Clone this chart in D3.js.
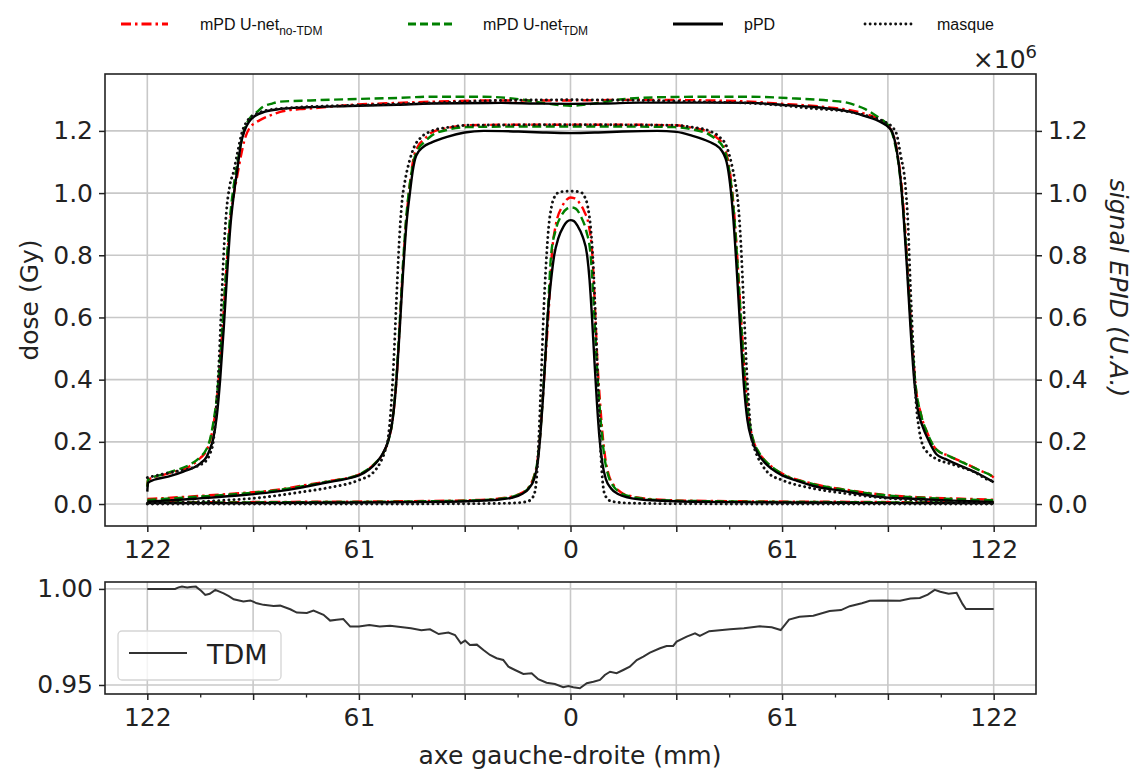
<!DOCTYPE html>
<html><head><meta charset="utf-8">
<script src="https://cdn.jsdelivr.net/npm/d3@7"></script>
<style>body{margin:0;background:#fff}svg{display:block}</style>
</head><body>
<svg id="c" width="1140" height="772"></svg>
<script>
// ---------- DATA ----------
const xTickValues = [-122, -61, 0, 61, 122];
const xTickLabels = ["122", "61", "0", "61", "122"];
const xGridValues = [-122, -91.5, -61, -30.5, 0, 30.5, 61, 91.5, 122];
const xMinorValues = [-106.75, -76.25, -45.75, -15.25, 15.25, 45.75, 76.25, 106.75];
const yTopTicks = [0.0, 0.2, 0.4, 0.6, 0.8, 1.0, 1.2];
const yBotTicks = [0.95, 1.00];
const legendLabels = ["mPD U-net", "mPD U-net", "pPD", "masque"];
const legendSubs = ["no-TDM", "TDM", "", ""];

// large field
const largeNoTDM = [[-122,0.058],[-121.8,0.078],[-118,0.092],[-114,0.104],[-110,0.12],[-106.7,0.148],[-105,0.17],[-104,0.2],[-103,0.25],[-102,0.33],[-101,0.46],[-100,0.62],[-99,0.79],[-98,0.92],[-97,1.0],[-96,1.06],[-95,1.12],[-94,1.17],[-92.5,1.21],[-91,1.225],[-89,1.238],[-86,1.252],[-83.7,1.261],[-78,1.27],[-74,1.273],[-64,1.283],[-50,1.29],[-40,1.294],[-20,1.298],[0,1.298],[20,1.3],[40,1.298],[52,1.294],[60,1.288],[67,1.283],[75,1.275],[80,1.268],[84,1.258],[88,1.243],[90.5,1.228],[92,1.21],[93.3,1.18],[94.5,1.11],[95.5,1.02],[96.5,0.88],[97.5,0.7],[98.5,0.52],[99.5,0.38],[101,0.29],[103,0.225],[105.5,0.175],[109,0.155],[113,0.135],[118,0.108],[121.7,0.088],[122,0.085]];
const largeTDM = [[-122,0.055],[-121.8,0.078],[-118,0.094],[-114,0.108],[-110,0.125],[-106.7,0.152],[-105,0.175],[-104,0.205],[-103,0.26],[-102,0.34],[-101,0.47],[-100,0.63],[-99,0.8],[-98,0.94],[-97,1.03],[-96,1.1],[-95,1.16],[-94,1.205],[-92.5,1.24],[-90.3,1.262],[-88.6,1.278],[-86,1.288],[-83.7,1.294],[-75,1.298],[-64,1.302],[-50,1.306],[-40,1.31],[-25,1.31],[-15,1.302],[-8,1.29],[-3,1.283],[0,1.281],[3,1.283],[8,1.29],[15,1.302],[25,1.308],[40,1.31],[52,1.31],[65,1.304],[75,1.297],[80,1.29],[82,1.283],[85,1.27],[87,1.257],[89,1.242],[91,1.225],[92.5,1.2],[93.5,1.16],[94.5,1.1],[95.5,1.0],[96.5,0.86],[97.5,0.69],[98.5,0.52],[99.5,0.38],[101,0.29],[103,0.225],[105.5,0.175],[109,0.155],[113,0.134],[118,0.108],[121.7,0.088],[122,0.085]];
const largePPD = [[-122,0.04],[-121.8,0.068],[-120,0.078],[-116,0.088],[-111.6,0.104],[-106.7,0.131],[-105,0.15],[-104,0.175],[-103,0.21],[-102,0.28],[-101,0.4],[-100,0.56],[-99,0.74],[-98,0.9],[-97,1.0],[-96,1.08],[-95,1.16],[-94,1.2],[-92.5,1.232],[-91,1.248],[-88,1.262],[-84,1.27],[-76,1.276],[-64,1.28],[-50,1.284],[-40,1.288],[-20,1.29],[-10,1.288],[0,1.287],[10,1.288],[20,1.291],[40,1.291],[52,1.29],[62,1.283],[70,1.277],[76,1.27],[80.5,1.262],[85.3,1.246],[88,1.236],[90,1.225],[91.5,1.214],[92.8,1.195],[94,1.14],[95,1.06],[96,0.93],[97,0.76],[98,0.57],[99,0.41],[100,0.31],[101.5,0.25],[103,0.21],[105.5,0.16],[108,0.145],[113,0.12],[118,0.095],[121.7,0.072],[122,0.07]];
const largeMask = [[-122,0.085],[-118,0.095],[-114,0.104],[-110,0.113],[-107,0.125],[-105,0.14],[-104,0.16],[-103,0.2],[-102.3,0.28],[-101.5,0.42],[-100.7,0.62],[-100,0.8],[-99.2,0.94],[-98.3,1.02],[-97.1,1.07],[-96,1.13],[-94.7,1.195],[-93,1.235],[-91,1.252],[-88,1.265],[-80,1.275],[-60,1.283],[-40,1.29],[-20,1.298],[0,1.3],[20,1.298],[40,1.293],[52,1.289],[62,1.281],[70,1.272],[80,1.262],[85,1.25],[90,1.232],[92.5,1.215],[94,1.19],[95.2,1.12],[96.4,1.04],[97.3,0.9],[98,0.7],[98.8,0.5],[99.6,0.33],[100.5,0.24],[101.5,0.19],[103,0.165],[105.5,0.145],[110,0.128],[116,0.105],[121.7,0.075],[122,0.075]];

// medium field
const medNoTDM = [[-122,0.016],[-107,0.026],[-95,0.035],[-85,0.045],[-78,0.058],[-70,0.073],[-61,0.095],[-56,0.135],[-54,0.163],[-52.5,0.205],[-51.3,0.27],[-50.3,0.38],[-49.3,0.56],[-48.3,0.76],[-47.3,0.92],[-46.3,1.03],[-45.3,1.11],[-44,1.15],[-42,1.175],[-40,1.195],[-35.6,1.209],[-30,1.218],[-15,1.22],[0,1.22],[15,1.22],[30,1.218],[35,1.21],[40,1.195],[42,1.18],[44,1.155],[45.5,1.1],[46.5,1.02],[47.5,0.89],[48.5,0.72],[49.5,0.54],[50.5,0.38],[51.5,0.27],[52.7,0.205],[54.5,0.163],[58,0.12],[61,0.098],[70,0.065],[80,0.045],[90,0.03],[100,0.022],[110,0.018],[122,0.014]];
const medTDM = [[-122,0.013],[-107,0.024],[-95,0.033],[-85,0.044],[-78,0.056],[-70,0.072],[-61,0.095],[-56,0.135],[-54,0.163],[-52.5,0.205],[-51.3,0.27],[-50.3,0.39],[-49.3,0.57],[-48.3,0.77],[-47.3,0.93],[-46.3,1.03],[-45.3,1.1],[-44,1.14],[-42,1.165],[-40,1.185],[-35.6,1.203],[-30,1.212],[-15,1.214],[0,1.214],[15,1.214],[30,1.212],[35,1.205],[40,1.188],[42,1.172],[44,1.148],[45.5,1.09],[46.5,1.01],[47.5,0.88],[48.5,0.71],[49.5,0.53],[50.5,0.37],[51.5,0.27],[52.7,0.205],[54.5,0.163],[58,0.12],[61,0.097],[70,0.064],[80,0.044],[90,0.029],[100,0.021],[110,0.016],[122,0.012]];
const medPPD = [[-122,0.008],[-115,0.012],[-107,0.018],[-95,0.028],[-85,0.04],[-78,0.052],[-70,0.07],[-65,0.08],[-61,0.092],[-58,0.112],[-56,0.133],[-54,0.165],[-52.5,0.205],[-51.3,0.27],[-50.3,0.38],[-49.3,0.55],[-48.3,0.74],[-47.3,0.9],[-46.3,1.0],[-45.5,1.07],[-44.5,1.12],[-42.5,1.148],[-40,1.163],[-35.6,1.181],[-30.5,1.195],[-25,1.2],[-15,1.198],[-8,1.195],[0,1.193],[8,1.195],[15,1.198],[25,1.2],[30.5,1.197],[35,1.185],[40,1.165],[43,1.145],[45,1.1],[46,1.03],[47,0.91],[48,0.74],[49,0.55],[50,0.38],[51,0.27],[52.3,0.205],[54,0.163],[56,0.133],[58,0.113],[61,0.092],[65,0.076],[70,0.058],[78,0.043],[89,0.023],[100,0.016],[110,0.011],[122,0.007]];
const medMask = [[-122,0.002],[-110,0.006],[-100,0.012],[-90,0.02],[-78,0.038],[-70,0.052],[-61,0.077],[-57,0.1],[-55,0.13],[-53.5,0.17],[-52.6,0.21],[-51.8,0.3],[-51,0.45],[-50.2,0.65],[-49.4,0.84],[-48.6,0.97],[-47.7,1.04],[-46.5,1.1],[-45,1.15],[-43,1.18],[-40,1.2],[-35,1.212],[-30,1.218],[0,1.22],[30,1.218],[35,1.212],[40,1.2],[43,1.18],[45,1.15],[46.3,1.1],[47.4,1.04],[48.3,0.97],[49.1,0.84],[49.9,0.65],[50.7,0.45],[51.5,0.3],[52.3,0.21],[53.3,0.17],[55,0.13],[57,0.1],[61,0.077],[70,0.05],[78,0.036],[90,0.02],[100,0.012],[110,0.006],[122,0.002]];

// small field
const smallNoTDM = [[-122,0.006],[-100,0.006],[-80,0.007],[-60,0.008],[-40,0.01],[-30,0.012],[-22,0.016],[-17,0.024],[-14,0.036],[-12,0.055],[-10.5,0.09],[-9.5,0.14],[-8.7,0.23],[-8,0.34],[-7.2,0.47],[-6.4,0.6],[-5.4,0.8],[-4.2,0.9],[-2.5,0.955],[-1,0.98],[0,0.986],[1,0.984],[2.5,0.97],[4,0.94],[5.2,0.9],[6.3,0.8],[7.1,0.62],[7.8,0.45],[8.5,0.33],[9.2,0.23],[10,0.15],[11,0.095],[12.5,0.06],[14.5,0.038],[17.5,0.025],[22,0.017],[30,0.012],[40,0.01],[60,0.008],[80,0.007],[100,0.006],[122,0.006]];
const smallTDM = [[-122,0.005],[-100,0.005],[-80,0.006],[-60,0.007],[-40,0.009],[-30,0.011],[-22,0.015],[-17,0.023],[-14,0.035],[-12,0.053],[-10.5,0.088],[-9.5,0.14],[-8.7,0.23],[-8,0.34],[-7.3,0.47],[-6.6,0.6],[-5.6,0.8],[-4.3,0.88],[-2.5,0.93],[-1,0.95],[0.3,0.954],[1.5,0.95],[3,0.925],[4.5,0.88],[5.8,0.8],[6.9,0.6],[7.6,0.45],[8.3,0.33],[9,0.23],[9.8,0.15],[10.8,0.095],[12.3,0.058],[14.3,0.037],[17.3,0.024],[22,0.016],[30,0.011],[40,0.009],[60,0.007],[80,0.006],[100,0.005],[122,0.005]];
const smallPPD = [[-122,0.003],[-100,0.003],[-80,0.004],[-60,0.005],[-40,0.007],[-30,0.009],[-22,0.013],[-17,0.02],[-14,0.032],[-12,0.05],[-10.5,0.08],[-9.5,0.13],[-8.7,0.22],[-8,0.33],[-7.3,0.46],[-6.6,0.6],[-5.6,0.72],[-4.7,0.8],[-3.5,0.855],[-2,0.893],[-1,0.908],[0,0.913],[1,0.91],[2,0.895],[3.5,0.86],[4.8,0.8],[5.5,0.72],[6.2,0.6],[6.9,0.46],[7.6,0.33],[8.3,0.22],[9.2,0.13],[10.2,0.08],[11.7,0.05],[13.7,0.032],[17,0.02],[22,0.013],[30,0.009],[40,0.007],[60,0.005],[80,0.004],[100,0.003],[122,0.003]];
const smallMask = [[-122,0.0],[-60,0.0],[-30,0.001],[-20,0.002],[-15,0.004],[-12,0.01],[-10.5,0.03],[-9.8,0.08],[-9.3,0.17],[-8.8,0.3],[-8.3,0.45],[-7.8,0.6],[-7,0.78],[-6.3,0.89],[-5.5,0.955],[-4.5,0.99],[-3,1.004],[0,1.006],[2.7,1.004],[4,0.99],[5,0.955],[5.8,0.89],[6.5,0.78],[7.2,0.6],[7.7,0.45],[8.2,0.3],[8.7,0.17],[9.2,0.08],[9.9,0.03],[11.5,0.01],[15,0.004],[20,0.002],[30,0.001],[60,0.0],[122,0.0]];

// bottom panel: TDM ratio
const tdmProfile = [[-122,1.0],[-114,1.0],[-113,1.0008],[-112,1.0012],[-110.5,1.0008],[-109.6,1.001],[-108,1.0012],[-106.5,0.999],[-105.3,0.9969],[-104,0.9975],[-102.4,0.9995],[-100,0.9977],[-98.5,0.9962],[-97.1,0.9946],[-94.3,0.9934],[-92.3,0.994],[-90.4,0.9925],[-88.5,0.9917],[-85.6,0.9911],[-83.7,0.9913],[-80.8,0.9894],[-78.9,0.9877],[-76,0.9875],[-74.1,0.9887],[-71.2,0.9865],[-69.3,0.9835],[-67.4,0.9839],[-65.5,0.9843],[-63.5,0.9804],[-61,0.9805],[-58,0.9812],[-55,0.9805],[-52,0.9808],[-49,0.9802],[-46,0.9795],[-43,0.9785],[-40.5,0.979],[-38,0.9765],[-35.2,0.9773],[-33.3,0.976],[-31.6,0.9717],[-30.4,0.9731],[-29,0.9708],[-27,0.971],[-25.1,0.9682],[-23.2,0.9656],[-21.3,0.9639],[-19.4,0.963],[-17.9,0.9595],[-16,0.9578],[-13.6,0.9557],[-11.2,0.9561],[-9.3,0.953],[-6.9,0.9512],[-4.5,0.9505],[-2.1,0.9488],[-0.6,0.9495],[0.8,0.9488],[2.7,0.9483],[4.7,0.9509],[6.6,0.9517],[8.5,0.9526],[9.9,0.9552],[11.4,0.9569],[13.3,0.9561],[15.2,0.9578],[17.1,0.9595],[19.1,0.963],[21,0.9648],[22.9,0.9668],[25.8,0.9691],[27.7,0.9703],[29.6,0.9703],[30.6,0.9726],[33.5,0.9752],[35.9,0.9769],[37.3,0.9755],[40,0.978],[43,0.9785],[46,0.979],[50,0.9795],[54.6,0.9805],[58,0.98],[60.6,0.9786],[63,0.984],[66,0.9855],[70,0.986],[74.7,0.9885],[78,0.989],[80.5,0.991],[84,0.9925],[86.3,0.9938],[90,0.994],[95,0.9938],[98,0.995],[100.7,0.9953],[103,0.997],[105,0.9995],[106.6,0.9985],[109,0.9975],[111.3,0.998],[113,0.9922],[114,0.9895],[122,0.9895]];

// ---------- DRAWING ----------
const svg = d3.select("#c");
const L = 105, R = 1036;
const topT = 74, topB = 526, botT = 582, botB = 694;
const x = d3.scaleLinear().domain([-134.2, 134.2]).range([L, R]);
const yTop = d3.scaleLinear().domain([-0.0707, 1.383]).range([topB, topT]);
const yBot = d3.scaleLinear().domain([0.9453, 1.0036]).range([botB, botT]);
const tickFont = "DejaVu Sans, sans-serif";
const gridColor = "#c8c8c8";

function panel(yS, yTicks, yFmt, T, B, rightAxis) {
  const g = svg.append("g");
  g.append("g").selectAll("line").data(xGridValues).join("line")
    .attr("x1", d => x(d)).attr("x2", d => x(d)).attr("y1", T).attr("y2", B)
    .attr("stroke", gridColor).attr("stroke-width", 1.6);
  g.append("g").selectAll("line").data(yTicks).join("line")
    .attr("x1", L).attr("x2", R).attr("y1", d => yS(d)).attr("y2", d => yS(d))
    .attr("stroke", gridColor).attr("stroke-width", 1.6);
  const xAxisMajor = d3.axisBottom(x).tickValues(xGridValues).tickSize(6)
    .tickFormat(d => { const i = xTickValues.indexOf(d); return i >= 0 ? xTickLabels[i] : ""; });
  const ax = g.append("g").attr("transform", `translate(0,${B})`).call(xAxisMajor);
  ax.select(".domain").remove();
  ax.selectAll("line").attr("stroke", "#222").attr("stroke-width", 1.5);
  ax.selectAll("text").attr("font-family", tickFont).attr("font-size", 25).attr("fill", "#222").attr("dy", "0.9em");
  const axm = g.append("g").attr("transform", `translate(0,${B})`)
    .call(d3.axisBottom(x).tickValues(xMinorValues).tickSize(3.5).tickFormat(""));
  axm.select(".domain").remove();
  axm.selectAll("line").attr("stroke", "#222").attr("stroke-width", 1.3);
  const ay = g.append("g").attr("transform", `translate(${L},0)`)
    .call(d3.axisLeft(yS).tickValues(yTicks).tickSize(6).tickFormat(yFmt).tickPadding(6));
  ay.select(".domain").remove();
  ay.selectAll("line").attr("stroke", "#222").attr("stroke-width", 1.5);
  ay.selectAll("text").attr("font-family", tickFont).attr("font-size", 25).attr("fill", "#222");
  if (rightAxis) {
    const ar = g.append("g").attr("transform", `translate(${R},0)`)
      .call(d3.axisRight(yS).tickValues(yTicks).tickSize(6).tickFormat(yFmt).tickPadding(6));
    ar.select(".domain").remove();
    ar.selectAll("line").attr("stroke", "#222").attr("stroke-width", 1.5);
    ar.selectAll("text").attr("font-family", tickFont).attr("font-size", 25).attr("fill", "#222");
  }
  return g;
}

panel(yTop, yTopTicks, d3.format(".1f"), topT, topB, true);
panel(yBot, yBotTicks, d3.format(".2f"), botT, botB, false);

const lineTop = d3.line().x(d => x(d[0])).y(d => yTop(d[1])).curve(d3.curveMonotoneX);
const styles = [
  {color: "#ff0000", dash: "10,4,2.5,4", w: 2.4, cap: "butt"},
  {color: "#008000", dash: "9,4.5", w: 2.4, cap: "butt"},
  {color: "#000000", dash: null, w: 2.4, cap: "butt"},
  {color: "#111111", dash: "0.1,5", w: 2.9, cap: "round"}
];
const groups = [
  [largeNoTDM, medNoTDM, smallNoTDM],
  [largeTDM, medTDM, smallTDM],
  [largePPD, medPPD, smallPPD],
  [largeMask, medMask, smallMask]
];
const cg = svg.append("g");
groups.forEach((arrs, i) => {
  arrs.forEach(a => {
    cg.append("path").datum(a).attr("d", lineTop).attr("fill", "none")
      .attr("stroke", styles[i].color).attr("stroke-width", styles[i].w)
      .attr("stroke-dasharray", styles[i].dash)
      .attr("stroke-linecap", styles[i].cap);
  });
});

const lineBot = d3.line().x(d => x(d[0])).y(d => yBot(d[1]));
svg.append("path").datum(tdmProfile).attr("d", lineBot).attr("fill", "none")
  .attr("stroke", "#333").attr("stroke-width", 2);

[[topT, topB], [botT, botB]].forEach(([t, b]) => {
  svg.append("rect").attr("x", L).attr("y", t).attr("width", R - L).attr("height", b - t)
    .attr("fill", "none").attr("stroke", "#222").attr("stroke-width", 1.6);
});

// bottom legend
const lg = svg.append("g");
lg.append("rect").attr("x", 118).attr("y", 631).attr("width", 163).attr("height", 49).attr("rx", 4)
  .attr("fill", "rgba(255,255,255,0.8)").attr("stroke", "#d5d5d5").attr("stroke-width", 1.3);
lg.append("line").attr("x1", 129).attr("x2", 187).attr("y1", 653).attr("y2", 653)
  .attr("stroke", "#333").attr("stroke-width", 2);
lg.append("text").attr("x", 207).attr("y", 664).text("TDM")
  .attr("font-family", tickFont).attr("font-size", 27).attr("fill", "#222");

// axis labels
svg.append("text").attr("transform", "translate(38,300) rotate(-90)").attr("text-anchor", "middle")
  .attr("font-family", tickFont).attr("font-size", 25).attr("fill", "#222").text("dose (Gy)");
svg.append("text").attr("transform", "translate(1110,288) rotate(90)").attr("text-anchor", "middle")
  .attr("font-family", tickFont).attr("font-size", 25).attr("font-style", "italic").attr("fill", "#222")
  .text("signal EPID (U.A.)");
svg.append("text").attr("x", 570).attr("y", 764).attr("text-anchor", "middle")
  .attr("font-family", tickFont).attr("font-size", 25).attr("fill", "#222").text("axe gauche-droite (mm)");
const mult = svg.append("text").attr("x", 1037).attr("y", 68).attr("text-anchor", "end")
  .attr("font-family", tickFont).attr("font-size", 25).attr("fill", "#222");
mult.append("tspan").text("×10");
mult.append("tspan").attr("dy", -10).attr("font-size", 18).text("6");

// top legend
const legX = [121, 408, 673, 865];
const legW = [47, 46, 50, 49];
const legT = [200, 483, 744, 937];
const tl = svg.append("g");
legendLabels.forEach((lab, i) => {
  tl.append("line").attr("x1", legX[i]).attr("x2", legX[i] + legW[i]).attr("y1", 24).attr("y2", 24)
    .attr("stroke", styles[i].color).attr("stroke-width", i === 2 ? 3 : 2.8)
    .attr("stroke-dasharray", i === 0 ? "10,4,2.5,4" : i === 1 ? "8,4" : i === 3 ? "0.1,5" : null)
    .attr("stroke-linecap", styles[i].cap);
  const t = tl.append("text").attr("x", legT[i]).attr("y", 30)
    .attr("font-family", "Liberation Sans, Arial, sans-serif").attr("font-size", 16).attr("fill", "#111");
  t.append("tspan").text(lab);
  if (legendSubs[i]) t.append("tspan").attr("dy", 5).attr("font-size", 12).text(legendSubs[i]);
});
</script>
</body></html>
